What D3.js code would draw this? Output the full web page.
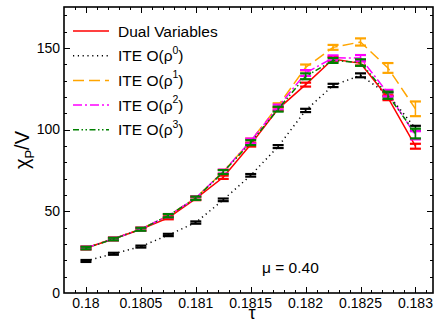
<!DOCTYPE html>
<html>
<head>
<meta charset="utf-8">
<script src="https://cdn.jsdelivr.net/npm/d3@7"></script>
<style>
  body { margin: 0; background: #fff; }
  svg { font-family: "Liberation Sans", Arial, sans-serif; }
</style>
</head>
<body>
<svg width="436" height="322"></svg>
<script>
// tau values (x) shared by all series
var tau = [0.18, 0.18025, 0.1805, 0.18075, 0.181, 0.18125, 0.1815, 0.18175, 0.182, 0.18225, 0.1825, 0.18275, 0.183];

// chi_P / V for each method, with error bars
var dual    = [27.5, 33, 39, 46, 57.8, 70.8, 90.8, 112.7, 127.5, 143.2, 140.5, 119.5, 89.8];
var dualErr = [0.8, 0.8, 0.8, 0.9, 1, 1, 1.2, 1.2, 1.2, 1.3, 1.3, 1.5, 1.5];
var ite0    = [19.6, 24, 28.4, 35.5, 43.1, 57, 72, 89.6, 111.7, 127, 133.2, 121.5, 100.8];
var ite0Err = [0.6, 0.6, 0.6, 0.7, 0.7, 0.8, 0.8, 0.9, 1, 1, 1.2, 1.2, 1.5];
var ite1    = [27.6, 33.2, 39.2, 47.2, 58.2, 74.2, 93, 114.6, 138, 150.3, 153.6, 137.7, 112.7];
var ite1Err = [0.8, 0.8, 0.9, 1, 1, 1.2, 1.5, 1.5, 1.8, 1.5, 2.2, 3, 4.5];
var ite2    = [27.6, 33.1, 39.1, 47.3, 58.1, 74.3, 93, 113.8, 134.6, 143.9, 143.8, 122.3, 96.5];
var ite2Err = [0.8, 0.8, 0.9, 1, 1, 1.2, 1.5, 1.5, 1.8, 1.5, 1.8, 2, 2.5];
var ite3    = [27.5, 33, 39, 47.3, 58, 74, 92, 112.5, 132.6, 142.3, 141, 121, 97.6];
var ite3Err = [0.8, 0.8, 0.9, 1, 1, 1.2, 1.5, 1.5, 1.8, 1.5, 2, 2.2, 3];

var seriesNames = ["Dual Variables", "ITE O(ρ0)", "ITE O(ρ1)", "ITE O(ρ2)", "ITE O(ρ3)"];
var seriesSup = ["", "0", "1", "2", "3"];
var seriesColors = ["#ff0000", "#000000", "#ffa500", "#ff00ff", "#008000"];
var seriesDash = ["none", "1.2,3.6", "11,5", "9,3,2,3", "6,2.5,1.5,2.5,1.5,2.5"];

var xTicks = [0.18, 0.1805, 0.181, 0.1815, 0.182, 0.1825, 0.183];
var xTickLabels = ["0.18", "0.1805", "0.181", "0.1815", "0.182", "0.1825", "0.183"];
var yTicks = [0, 50, 100, 150];

var series = [
  {vals: dual, err: dualErr},
  {vals: ite0, err: ite0Err},
  {vals: ite1, err: ite1Err},
  {vals: ite2, err: ite2Err},
  {vals: ite3, err: ite3Err}
];

// plot frame edges (pixels)
var pLeft = 64, pRight = 433, pTop = 7, pBottom = 293;

var svg = d3.select("svg");

var x = d3.scaleLinear().domain([0.1798, 0.18316]).range([pLeft, pRight]);
var y = d3.scaleLinear().domain([0, 175]).range([pBottom, pTop]);

// minor/major ticks (inward) on all four sides
var xMinor = d3.range(0, 34).map(function(i) { return 0.1798 + i * 0.0001; })
  .filter(function(v) { return v > 0.17981 && v < 0.18315; });
var yMinor = d3.range(0, 18).map(function(i) { return i * 10; }).filter(function(v) { return v > 0 && v < 175; });

var axes = svg.append("g").attr("stroke", "#000").attr("stroke-width", 1);

function isMajorX(v) { return xTicks.some(function(t) { return Math.abs(t - v) < 1e-7; }); }

xMinor.forEach(function(v) {
  var len = isMajorX(v) ? 6 : 3;
  var px = Math.round(x(v)) + 0.5;
  axes.append("line").attr("x1", px).attr("x2", px).attr("y1", pBottom).attr("y2", pBottom - len);
  axes.append("line").attr("x1", px).attr("x2", px).attr("y1", pTop).attr("y2", pTop + len);
});
yMinor.forEach(function(v) {
  var len = (v % 50 === 0) ? 6 : 3;
  var py = Math.round(y(v)) + 0.5;
  axes.append("line").attr("y1", py).attr("y2", py).attr("x1", pLeft).attr("x2", pLeft + len);
  axes.append("line").attr("y1", py).attr("y2", py).attr("x1", pRight).attr("x2", pRight - len);
});

// frame
svg.append("rect")
  .attr("x", pLeft).attr("y", pTop)
  .attr("width", pRight - pLeft).attr("height", pBottom - pTop)
  .attr("fill", "none").attr("stroke", "#000").attr("stroke-width", 1.6);

// tick labels
svg.append("g").selectAll("text").data(xTicks).enter().append("text")
  .attr("x", function(d) { return x(d); })
  .attr("y", 308)
  .attr("text-anchor", "middle")
  .attr("font-size", 14)
  .text(function(d, i) { return xTickLabels[i]; });

svg.append("g").selectAll("text").data(yTicks).enter().append("text")
  .attr("x", 60)
  .attr("y", function(d) { return y(d); })
  .attr("dy", "0.35em")
  .attr("text-anchor", "end")
  .attr("font-size", 14)
  .text(function(d) { return d; });

// axis titles
svg.append("text")
  .attr("transform", "translate(29,150) rotate(-90)")
  .attr("text-anchor", "middle")
  .attr("font-size", 20)
  .html('χ<tspan font-size="13" dy="5">P</tspan><tspan dy="-5">/V</tspan>');

svg.append("text")
  .attr("x", 252).attr("y", 319)
  .attr("text-anchor", "middle")
  .attr("font-size", 18)
  .text("τ");

svg.append("text")
  .attr("x", 262).attr("y", 273)
  .attr("font-size", 15.5)
  .text("μ = 0.40");

// series lines and error bars
var line = d3.line()
  .x(function(d) { return x(d[0]); })
  .y(function(d) { return y(d[1]); });

var order = [1, 2, 0, 3, 4];
order.forEach(function(k) {
  var s = series[k];
  var g = svg.append("g");
  var pts = tau.map(function(t, i) { return [t, s.vals[i], s.err[i]]; });

  g.append("path")
    .attr("d", line(pts))
    .attr("fill", "none")
    .attr("stroke", seriesColors[k])
    .attr("stroke-width", 1.5)
    .attr("stroke-dasharray", seriesDash[k]);

  var eb = g.selectAll("g.eb").data(pts).enter().append("g")
    .attr("stroke", seriesColors[k]);
  eb.append("line")
    .attr("stroke-width", 1.5)
    .attr("x1", function(d) { return x(d[0]); })
    .attr("x2", function(d) { return x(d[0]); })
    .attr("y1", function(d) { return y(d[1] - d[2]); })
    .attr("y2", function(d) { return y(d[1] + d[2]); });
  [-1, 1].forEach(function(sg) {
    eb.append("line")
      .attr("stroke-width", 2.2)
      .attr("x1", function(d) { return x(d[0]) - 5.5; })
      .attr("x2", function(d) { return x(d[0]) + 5.5; })
      .attr("y1", function(d) { return y(d[1] + sg * d[2]); })
      .attr("y2", function(d) { return y(d[1] + sg * d[2]); });
  });
});

// legend
var legend = svg.append("g").selectAll("g")
  .data(seriesNames).enter().append("g")
  .attr("transform", function(d, i) { return "translate(0," + (31 + i * 24.7) + ")"; });

legend.append("line")
  .attr("x1", 73).attr("x2", 109)
  .attr("y1", 0).attr("y2", 0)
  .attr("stroke", function(d, i) { return seriesColors[i]; })
  .attr("stroke-width", 1.5)
  .attr("stroke-dasharray", function(d, i) { return seriesDash[i]; });

legend.append("text")
  .attr("x", 118)
  .attr("y", 0)
  .attr("dy", "0.36em")
  .attr("font-size", 15.5)
  .each(function(d, i) {
    var t = d3.select(this);
    if (i === 0) { t.text(d); return; }
    t.append("tspan").text("ITE O(ρ");
    t.append("tspan").attr("font-size", 10.5).attr("dy", -7.5).text(seriesSup[i]);
    t.append("tspan").attr("dy", 7.5).text(")");
  });
</script>
</body>
</html>
